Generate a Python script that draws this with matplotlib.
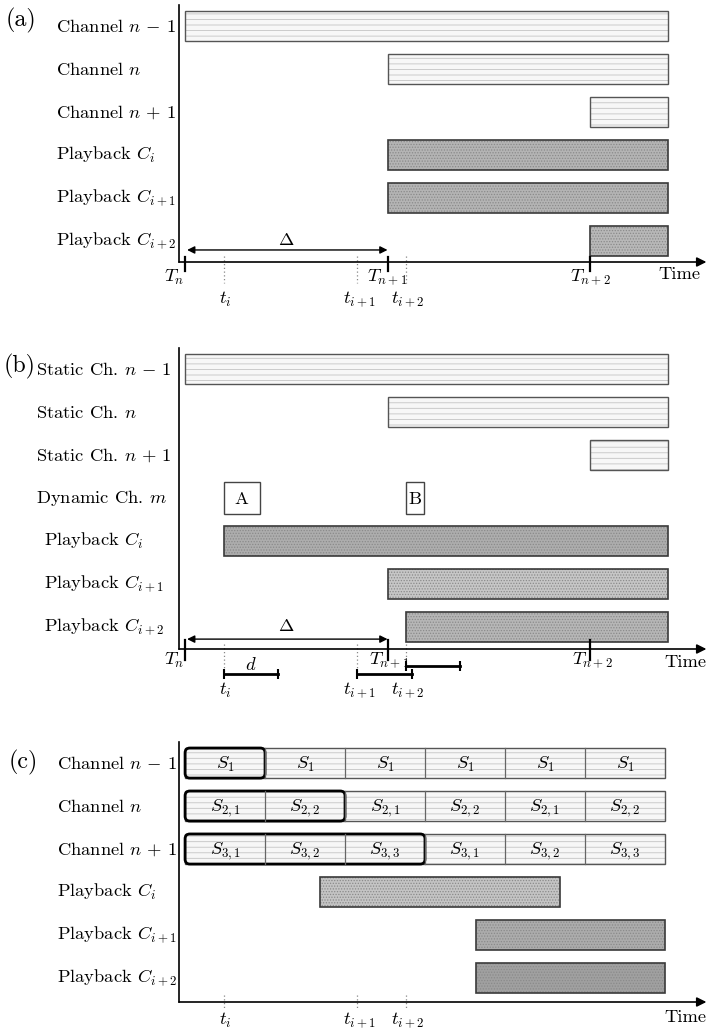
import matplotlib
matplotlib.use("Agg")
import matplotlib.pyplot as plt
from matplotlib.patches import Rectangle, FancyBboxPatch

plt.rcParams["font.family"] = ["cmr10", "DejaVu Serif"]
plt.rcParams["mathtext.fontset"] = "cm"
plt.rcParams["axes.unicode_minus"] = False
plt.rcParams["hatch.linewidth"] = 0.6

# ---- shared timeline (T_n = 0, T_{n+1} = 1, T_{n+2} = 2) ----
T_marks = [0.0, 1.0, 2.0]
T_labels = ["$T_n$", "$T_{n+1}$", "$T_{n+2}$"]
t_marks = [0.19, 0.85, 1.09]
t_labels = ["$t_i$", "$t_{i+1}$", "$t_{i+2}$"]
t_end = 2.385
d_len = 0.27

# ---- panel (a) ----
rows_a = [r"Channel $n\,-\,1$", "Channel $n$", r"Channel $n\,+\,1$",
          "Playback $C_i$", "Playback $C_{i+1}$", "Playback $C_{i+2}$"]
start_a = [0.0, 1.0, 2.0, 1.0, 1.0, 2.0]
kind_a = ["ch", "ch", "ch", "pb", "pb", "pb"]
shade_a = [None, None, None, "#b4b4b4", "#b4b4b4", "#b8b8b8"]

# ---- panel (b) ----
rows_b = [r"Static Ch. $n\,-\,1$", "Static Ch. $n$", r"Static Ch. $n\,+\,1$",
          "Dynamic Ch. $m$", "Playback $C_i$", "Playback $C_{i+1}$",
          "Playback $C_{i+2}$"]
start_b = [0.0, 1.0, 2.0, None, 0.19, 1.0, 1.09]
kind_b = ["ch", "ch", "ch", "dyn", "pb", "pb", "pb"]
shade_b = [None, None, None, None, "#adadad", "#c6c6c6", "#b6b6b6"]
dyn_names = ["A", "B"]
dyn_start = [0.19, 1.09]
dyn_width = [0.18, 0.09]

# ---- panel (c) ----
rows_c = [r"Channel $n\,-\,1$", "Channel $n$", r"Channel $n\,+\,1$",
          "Playback $C_i$", "Playback $C_{i+1}$", "Playback $C_{i+2}$"]
seg_width = 0.395
seg_names = [
    ["$S_1$"] * 6,
    ["$S_{2,1}$", "$S_{2,2}$"] * 3,
    ["$S_{3,1}$", "$S_{3,2}$", "$S_{3,3}$"] * 2,
]
pb_start_c = [0.667, 1.437, 1.437]
pb_end_c = [1.85, 2.37, 2.37]
shade_c = ["#c4c4c4", "#acacac", "#a0a0a0"]

FS = 13.3
W, H = 707, 1033
fig = plt.figure(figsize=(W / 100, H / 100), dpi=100)
XL = (-0.03, 2.578)
BAR_H = 0.70
PX_X, PX_Y = 202.5, 43.0   # pixels per data unit along x and y


def make_axes(top_px, bottom_px, nrows_span):
    ax = fig.add_axes([179 / W, 1 - bottom_px / H, 528 / W,
                       (bottom_px - top_px) / H])
    ax.set_xlim(*XL)
    ax.set_ylim(nrows_span, -0.49)
    for s in ["top", "right", "bottom"]:
        ax.spines[s].set_visible(False)
    ax.spines["left"].set_linewidth(1.2)
    ax.set_xticks([])
    ax.set_yticks([])
    ax.patch.set_alpha(0)
    # time axis arrow
    ax.annotate("", xy=(2.575, nrows_span), xytext=(XL[0], nrows_span),
                arrowprops=dict(arrowstyle="-|>", lw=1.2, color="black",
                                mutation_scale=14, shrinkA=0, shrinkB=0),
                annotation_clip=False)
    return ax


def channel_bar(ax, x0, x1, y):
    ax.add_patch(Rectangle((x0, y - BAR_H / 2), x1 - x0, BAR_H,
                           facecolor="#f7f7f7", edgecolor="#c4c4c4",
                           hatch="---", linewidth=0))
    ax.add_patch(Rectangle((x0, y - BAR_H / 2), x1 - x0, BAR_H,
                           fill=False, edgecolor="#555555", linewidth=1.0))


def playback_bar(ax, x0, x1, y, color):
    ax.add_patch(Rectangle((x0, y - BAR_H / 2), x1 - x0, BAR_H,
                           facecolor=color, edgecolor="#8a8a8a",
                           hatch="......", linewidth=0))
    ax.add_patch(Rectangle((x0, y - BAR_H / 2), x1 - x0, BAR_H,
                           fill=False, edgecolor="#3a3a3a", linewidth=1.2))


def row_labels(ax, labels, xs):
    for k, (lab, x) in enumerate(zip(labels, xs)):
        ax.text(x, k, lab, ha="left", va="center", fontsize=FS)


def dotted(ax, x, y0, y1):
    ax.plot([x, x], [y0, y1], color="#888888", lw=0.9, ls=(0, (1, 2)),
            clip_on=False)


def tick(ax, x, y0, y1):
    ax.plot([x, x], [y0, y1], color="black", lw=1.6, clip_on=False)


# ================= (a) =================
ya = 5.49
ax_a = make_axes(5, 262, ya)
for k, (x0, kd) in enumerate(zip(start_a, kind_a)):
    if kd == "ch":
        channel_bar(ax_a, x0, t_end, k)
    else:
        playback_bar(ax_a, x0, t_end, k, shade_a[k])
row_labels(ax_a, rows_a, [-0.637] * 6)
ax_a.text(-0.81, -0.14, "(a)", ha="center", va="center", fontsize=FS + 4)
ax_a.annotate("", xy=(T_marks[1], 5.21), xytext=(T_marks[0] + 0.01, 5.21),
              arrowprops=dict(arrowstyle="<|-|>", lw=1.0, color="black",
                              mutation_scale=11, shrinkA=0, shrinkB=0))
ax_a.text((T_marks[0] + T_marks[1]) / 2, 4.98, r"$\Delta$", ha="center",
          va="center", fontsize=FS)
for x in T_marks:
    tick(ax_a, x, ya - 0.12, ya + 0.2)
ax_a.text(T_marks[0] - 0.005, 5.84, T_labels[0], ha="right", va="center",
          fontsize=FS)
for x, lab in zip(T_marks[1:], T_labels[1:]):
    ax_a.text(x, 5.84, lab, ha="center", va="center", fontsize=FS)
for x, lab in zip(t_marks, t_labels):
    dotted(ax_a, x, ya - 0.14, ya + 0.5)
    ax_a.text(x + 0.01, 6.37, lab, ha="center", va="center", fontsize=FS)
ax_a.text(2.44, 5.77, "Time", ha="center", va="center", fontsize=FS)

# ================= (b) =================
yb = 6.51
ax_b = make_axes(348, 649, yb)
for k, (x0, kd) in enumerate(zip(start_b, kind_b)):
    if kd == "ch":
        channel_bar(ax_b, x0, t_end, k)
    elif kd == "pb":
        playback_bar(ax_b, x0, t_end, k, shade_b[k])
    else:
        for nm, xs, wd in zip(dyn_names, dyn_start, dyn_width):
            ax_b.add_patch(Rectangle((xs, k - 0.37), wd, 0.74,
                                     facecolor="white", edgecolor="#444444",
                                     linewidth=1.0))
            ax_b.text(xs + wd / 2, k + 0.04, nm, ha="center", va="center",
                      fontsize=FS)
label_x_b = [-0.736, -0.736, -0.736, -0.736, -0.696, -0.696, -0.696]
row_labels(ax_b, rows_b, label_x_b)
ax_b.text(-0.815, -0.05, "(b)", ha="center", va="center", fontsize=FS + 4)
ax_b.annotate("", xy=(T_marks[1], 6.28), xytext=(T_marks[0] + 0.01, 6.28),
              arrowprops=dict(arrowstyle="<|-|>", lw=1.0, color="black",
                              mutation_scale=11, shrinkA=0, shrinkB=0))
ax_b.text((T_marks[0] + T_marks[1]) / 2, 5.98, r"$\Delta$", ha="center",
          va="center", fontsize=FS)
for x in T_marks:
    tick(ax_b, x, yb - 0.22, yb + 0.25)
ax_b.text(T_marks[0] - 0.005, 6.77, T_labels[0], ha="right", va="center",
          fontsize=FS)
for x, lab in zip(T_marks[1:], T_labels[1:]):
    ax_b.text(x + 0.01, 6.77, lab, ha="center", va="center", fontsize=FS)
d_rows = [7.09, 7.09, 6.91]
for x, yy in zip(t_marks, d_rows):
    dotted(ax_b, x, yb - 0.12, yy)
    ax_b.plot([x, x + d_len], [yy, yy], color="black", lw=2.0,
              marker="|", markersize=7, mew=1.5, clip_on=False)
ax_b.text(t_marks[0] + d_len / 2, 6.86, "$d$", ha="center", va="center",
          fontsize=FS)
for x, lab in zip(t_marks, t_labels):
    ax_b.text(x + 0.01, 7.47, lab, ha="center", va="center", fontsize=FS)
ax_b.text(2.47, 6.81, "Time", ha="center", va="center", fontsize=FS)

# ================= (c) =================
yc = 5.56
ax_c = make_axes(742, 1002, yc)
for k, names in enumerate(seg_names):
    channel_bar(ax_c, 0.0, seg_width * len(names), k)
    for j, nm in enumerate(names):
        x0 = j * seg_width
        if j > 0:
            ax_c.plot([x0, x0], [k - BAR_H / 2, k + BAR_H / 2],
                      color="#666666", lw=0.9)
        ax_c.text(x0 + seg_width / 2, k + 0.04, nm, ha="center",
                  va="center", fontsize=FS)
    # the first full cycle of each channel is outlined
    ax_c.add_patch(FancyBboxPatch((0.0, k - BAR_H / 2),
                                  seg_width * (k + 1), BAR_H,
                                  boxstyle="round,pad=0,rounding_size=0.024",
                                  mutation_aspect=PX_X / PX_Y,
                                  fill=False, edgecolor="black",
                                  linewidth=2.0))
for i, (x0, x1, col) in enumerate(zip(pb_start_c, pb_end_c, shade_c)):
    playback_bar(ax_c, x0, x1, 3 + i, col)
row_labels(ax_c, rows_c, [-0.632] * 6)
ax_c.text(-0.80, -0.02, "(c)", ha="center", va="center", fontsize=FS + 4)
for x, lab in zip(t_marks, t_labels):
    dotted(ax_c, x, yc - 0.16, yc + 0.14)
    ax_c.text(x + 0.01, 5.98, lab, ha="center", va="center", fontsize=FS)
ax_c.text(2.47, 5.91, "Time", ha="center", va="center", fontsize=FS)

fig.savefig("out.png", dpi=100, facecolor="white")
